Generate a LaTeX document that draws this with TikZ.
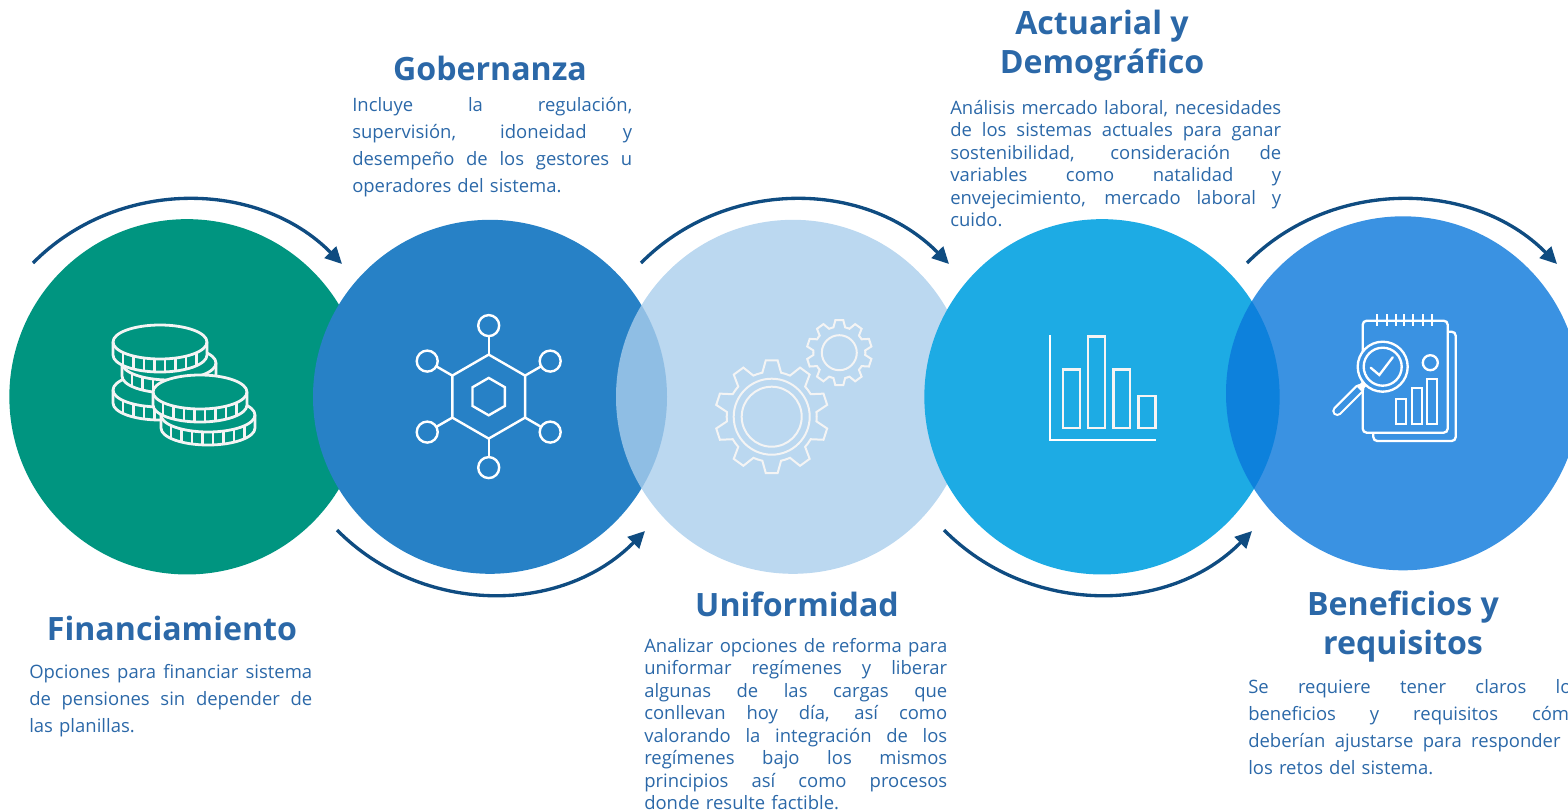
\documentclass[tikz,border=0pt]{standalone}
\usepackage{fontspec}
\setmainfont{Open Sans}
\usetikzlibrary{arrows.meta}
\definecolor{cgreen}{HTML}{009580}
\definecolor{cblue}{HTML}{2781C6}
\definecolor{clight}{HTML}{AACEEC}
\definecolor{ccyan}{HTML}{1DABE4}
\definecolor{cfive}{HTML}{0977DB}
\definecolor{cfivebg}{HTML}{3A92E2}
\definecolor{ctext}{HTML}{2B68A8}
\definecolor{carc}{HTML}{0F4C81}
\definecolor{cicon}{HTML}{F4F4F4}
\tikzset{
  disc/.style={circle,inner sep=0pt,minimum size=265.5pt},
  ic/.style={draw=cicon,line width=2.1pt,line join=miter},
  icthin/.style={draw=white,line width=1.75pt},
  sweep/.style={draw=carc,line width=2.5pt,-{Triangle[length=12.5pt,width=12pt]}},
  headtext/.style={text=ctext,align=center,font=\fontsize{24.1}{29.3}\selectfont\bfseries,inner sep=0pt},
  bodyA/.style={text=ctext,anchor=north west,inner sep=0pt,font=\fontsize{13.85}{20.25}\selectfont},
  bodyB/.style={text=ctext,anchor=north west,inner sep=0pt,font=\fontsize{13.85}{16.85}\selectfont},
}
\newcommand\jl[1]{\noindent\hbox to \hsize{\spaceskip=.26em plus 1fil minus .03em\relax #1}\par}
\newcommand\lastl[1]{\noindent\hbox{#1}\par}
\newcommand\coinat[2]{%
  \begin{scope}[shift={(#1,#2)}]
    \draw[ic,fill=cgreen] (-47,0) -- (-47,13) .. controls (-47,22.4) and (-26,30) .. (0,30) .. controls (26,30) and (47,22.4) .. (47,13) -- (47,0) .. controls (47,-9.4) and (26,-17) .. (0,-17) .. controls (-26,-17) and (-47,-9.4) .. (-47,0) -- cycle;
    \draw[ic] (-47,0) .. controls (-47,9.4) and (-26,17) .. (0,17) .. controls (26,17) and (47,9.4) .. (47,0);
    \foreach \tx in {-37,-26.5,-16,-5.5,5,15.5,26,36.5}
      \draw[ic] ({\tx},{17*sqrt(1-(\tx/47)^2)}) -- ++(0,13);
  \end{scope}}
\newcommand\gearat[6]{% cx cy tip-r root-r tip-half base-half
  \begin{scope}[shift={(#1,#2)}]
    \foreach \ga in {90,54,18,-18,-54,-90,-126,-162,-198,-234}
      \draw[ic,line width=1.5pt,line cap=round] (\ga-18:#4) -- (\ga-#6:#4) -- (\ga-#5:#3) -- (\ga+#5:#3) -- (\ga+#6:#4) -- (\ga+18:#4);
  \end{scope}}
\begin{document}
\begin{tikzpicture}[x=0.75pt,y=-0.75pt]
\useasboundingbox (0,0) rectangle (1568,811);
% discs
\node[disc,fill=cgreen,minimum size=266.5pt] (d1) at (187,396.8) {};
\node[disc,fill=cblue] (d2) at (490,396.8) {};
\node[disc,fill=clight,fill opacity=.8] (d3) at (793,396.8) {};
\node[disc,fill=ccyan,minimum size=266.5pt] (d4) at (1102,396.8) {};
\node[disc,fill=cfive,fill opacity=.8] (d5) at (1403,393.3) {};
% sweeps
\coordinate (s1) at (33,263);   \coordinate (e1) at (342,264);
\coordinate (s2) at (337,530);  \coordinate (e2) at (645,531);
\coordinate (s3) at (641,263);  \coordinate (e3) at (949,264);
\coordinate (s4) at (944,530);  \coordinate (e4) at (1252,531);
\coordinate (s5) at (1247,263); \coordinate (e5) at (1557,264);
\draw[sweep] (s1) .. controls +(84,-85) and +(-84,-85) .. (e1);
\draw[sweep] (s2) .. controls +(84,85) and +(-84,85) .. (e2);
\draw[sweep] (s3) .. controls +(84,-85) and +(-84,-85) .. (e3);
\draw[sweep] (s4) .. controls +(84,85) and +(-84,85) .. (e4);
\draw[sweep] (s5) .. controls +(84,-85) and +(-84,-85) .. (e5);
% coins
\coinat{160}{390}
\coinat{169}{363}
\coinat{160}{342}
\coinat{208}{415}
\coinat{200}{392}
% network
\begin{scope}[shift={(488.7,396.6)}]
  \draw[icthin,line width=1.8pt] (90:42) -- (30:42) -- (-30:42) -- (-90:42) -- (-150:42) -- (150:42) -- cycle;
  \draw[icthin,line width=1.8pt] (90:18.7) -- (30:18.7) -- (-30:18.7) -- (-90:18.7) -- (-150:18.7) -- (150:18.7) -- cycle;
  \foreach \na in {90,30,-30,-90,-150,150}{
    \draw[icthin,line width=1.8pt] (\na:42) -- (\na:60.5);
    \draw[icthin,line width=1.8pt] (\na:71) circle (10.5);
  }
\end{scope}
% gears
\gearat{771.7}{416.7}{56.7}{45}{6}{12}
\draw[ic,line width=1.5pt] (771.7,416.7) circle (38) (771.7,416.7) circle (30);
\gearat{839.3}{352.7}{32.7}{26}{7}{13}
\draw[ic,line width=1.5pt] (839.3,352.7) circle (17.5);
% bar chart
\draw[ic,draw=white] (1050,335) -- (1050,440) -- (1156,440);
\draw[ic] (1063,369.3) rectangle (1080,428);
\draw[ic] (1088,336.5) rectangle (1105,428);
\draw[ic] (1113.3,369.3) rectangle (1130,428);
\draw[ic] (1138.3,396) rectangle (1155.3,428);
% report
\draw[icthin,rounded corners=3pt] (1447.7,331.7) -- (1455.7,331.7) -- (1455.7,441) -- (1373.3,441) -- (1373.3,432.7);
\draw[icthin,rounded corners=3pt] (1362.7,320.7) rectangle (1447.7,432.7);
\foreach \rx in {1377.3,1386.7,1396,1404.3,1413.3,1422.7,1431.7}
  \draw[icthin] (\rx,314.3) -- (\rx,326);
\draw[icthin] (1430.3,362.7) circle (7.5);
\draw[icthin] (1395.7,399) rectangle (1405.7,424);
\draw[icthin] (1411.7,388.3) rectangle (1421.7,424);
\draw[icthin] (1427.3,379) rectangle (1437.3,424);
\draw[white,line width=7.6pt,line cap=round] (1337.3,411) -- (1359.3,389);
\draw[cfivebg,line width=4.2pt,line cap=round] (1337.3,411) -- (1359.3,389);
\draw[white,line width=4.5pt] (1359,389) -- (1366,382);
\draw[icthin,fill=cfivebg] (1382.7,366.7) circle (25);
\draw[icthin] (1382.7,366.7) circle (19);
\draw[icthin,line cap=round] (1370.7,367.7) -- (1379.3,375) -- (1392.7,357.3);
% titles
\node[headtext] (t1) at (172,628) {Financiamiento};
\node[headtext] (t2) at (490,68) {Gobernanza};
\node[headtext] (t3) at (797,604) {Uniformidad};
\node[headtext] (t4) at (1102,46) {Actuarial y\\Demográfico};
\node[headtext] (t5) at (1403,627) {Beneficios y\\requisitos};
% bodies
\node[bodyA,text width=212.25pt] (b1) at (29,664.5) {\jl{Opciones para financiar sistema}\jl{de pensiones sin depender de}\lastl{las planillas.}};
\node[bodyA,text width=210pt] (b2) at (352,97.5) {\jl{Incluye la regulación,}\jl{supervisión, idoneidad y}\jl{desempeño de los gestores u}\lastl{operadores del sistema.}};
\node[bodyB,text width=227.25pt] (b3) at (644,638) {\jl{Analizar opciones de reforma para}\jl{uniformar regímenes y liberar}\jl{algunas de las cargas que}\jl{conllevan hoy día, así como}\jl{valorando la integración de los}\jl{regímenes bajo los mismos}\jl{principios así como procesos}\lastl{donde resulte factible.}};
\node[bodyB,text width=248.25pt] (b4) at (950,100) {\jl{Análisis mercado laboral, necesidades}\jl{de los sistemas actuales para ganar}\jl{sostenibilidad, consideración de}\jl{variables como natalidad y}\jl{envejecimiento, mercado laboral y}\lastl{cuido.}};
\node[bodyA,text width=249pt] (b5) at (1248,679) {\jl{Se requiere tener claros los}\jl{beneficios y requisitos cómo}\jl{deberían ajustarse para responder a}\lastl{los retos del sistema.}};
\end{tikzpicture}
\end{document}
